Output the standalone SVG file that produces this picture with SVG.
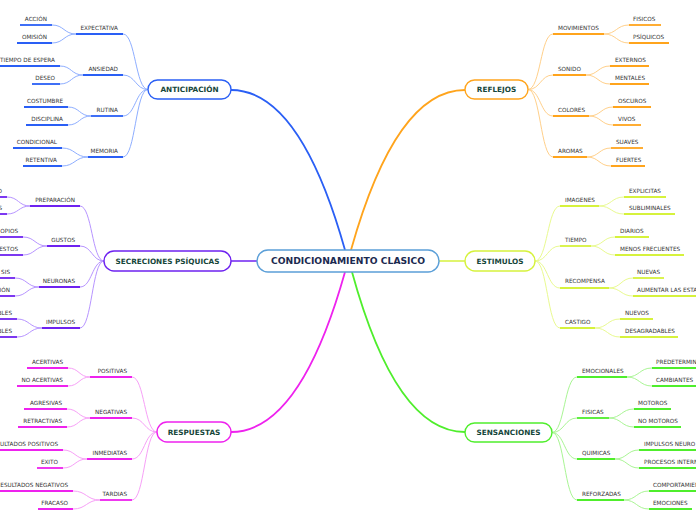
<svg xmlns="http://www.w3.org/2000/svg" width="696" height="520" viewBox="0 0 696 520">
<style>
.t{font-family:"DejaVu Sans",Verdana,sans-serif;font-size:5.7px;fill:#333}
.e{text-anchor:end}
.m{font-family:"DejaVu Sans",Verdana,sans-serif;font-weight:bold;font-size:7.3px;fill:#16463a;text-anchor:middle}
.c{font-family:"DejaVu Sans",Verdana,sans-serif;font-weight:bold;font-size:9.2px;fill:#1b2a50;text-anchor:middle}
.box{fill:#fff;stroke-width:1.4}
.u{stroke-width:1.8;fill:none;stroke-linecap:butt}
.k{fill:none;stroke-width:1}
.bl{stroke:#2a5ff5}.blk{stroke:#8eaeff}
.pu{stroke:#6e22f0}.puk{stroke:#b794ff}
.mg{stroke:#ee22ee}.mgk{stroke:#f7a0f7}
.or{stroke:#ffa41c}.ork{stroke:#ffd08a}
.li{stroke:#d6f23c}.lik{stroke:#e9fa90}
.gr{stroke:#4fee2c}.grk{stroke:#a9f594}
</style>
<g id="connectors">
<path class="k bl" style="stroke-width:1.8" d="M231,90 Q300,90 345,250"/>
<path class="k or" style="stroke-width:1.8" d="M465,90 Q396,90 351,250"/>
<path class="k mg" style="stroke-width:1.8" d="M231,432 Q300,432 345,272"/>
<path class="k gr" style="stroke-width:1.8" d="M465,432 Q396,432 352,272"/>
<path class="k pu" style="stroke-width:1.5" d="M231,261 H257"/>
<path class="k li" style="stroke-width:1.5" d="M439,261 H465"/>
<g class="k blk">
<path d="M148,89.5 C135.5,89.5 135.5,34 123,34"/>
<path d="M148,89.5 C135.5,89.5 135.5,75 123,75"/>
<path d="M148,89.5 C135.5,89.5 135.5,116 123,116"/>
<path d="M148,89.5 C135.5,89.5 135.5,157 123,157"/>
<path d="M76,34 C64,34 64,25 52,25"/><path d="M76,34 C64,34 64,43 52,43"/>
<path d="M83,75 C71.5,75 71.5,66 60,66"/><path d="M83,75 C71.5,75 71.5,84 60,84"/>
<path d="M91,116 C79.5,116 79.5,107 68,107"/><path d="M91,116 C79.5,116 79.5,125 68,125"/>
<path d="M88,157 C75,157 75,148 62,148"/><path d="M88,157 C75,157 75,166 62,166"/>
</g>
<g class="k puk">
<path d="M104,261 C92,261 92,206 80,206"/>
<path d="M104,261 C92,261 92,246 80,246"/>
<path d="M104,261 C92,261 92,287 80,287"/>
<path d="M104,261 C92,261 92,328 80,328"/>
<path d="M30,206 C18.5,206 18.5,197 7,197"/><path d="M30,206 C18.5,206 18.5,214 7,214"/>
<path d="M47,246 C35,246 35,237 23,237"/><path d="M47,246 C35,246 35,255 23,255"/>
<path d="M39,287 C27,287 27,278 15,278"/><path d="M39,287 C27,287 27,296 15,296"/>
<path d="M42,328 C29.5,328 29.5,319 17,319"/><path d="M42,328 C29.5,328 29.5,337 17,337"/>
</g>
<g class="k mgk">
<path d="M157,432 C144.5,432 144.5,377 132,377"/>
<path d="M157,432 C144.5,432 144.5,418 132,418"/>
<path d="M157,432 C144.5,432 144.5,459 132,459"/>
<path d="M157,432 C144.5,432 144.5,500 132,500"/>
<path d="M90,377 C79,377 79,368 68,368"/><path d="M90,377 C79,377 79,386 68,386"/>
<path d="M90,418 C78.5,418 78.5,409 67,409"/><path d="M90,418 C78.5,418 78.5,427 67,427"/>
<path d="M87,459 C75,459 75,450 63,450"/><path d="M87,459 C75,459 75,468 63,468"/>
<path d="M100,500 C86.5,500 86.5,491 73,491"/><path d="M100,500 C86.5,500 86.5,509 73,509"/>
</g>
<g class="k ork">
<path d="M528,89.5 C540.5,89.5 540.5,34 553,34"/>
<path d="M528,89.5 C540.5,89.5 540.5,75 553,75"/>
<path d="M528,89.5 C540.5,89.5 540.5,116 553,116"/>
<path d="M528,89.5 C540.5,89.5 540.5,157 553,157"/>
<path d="M604,34 C616.5,34 616.5,25 629,25"/><path d="M604,34 C616.5,34 616.5,43 629,43"/>
<path d="M586,75 C598,75 598,66 610,66"/><path d="M586,75 C598,75 598,84 610,84"/>
<path d="M589,116 C601,116 601,107 613,107"/><path d="M589,116 C601,116 601,125 613,125"/>
<path d="M587,157 C599,157 599,148 611,148"/><path d="M587,157 C599,157 599,166 611,166"/>
</g>
<g class="k lik">
<path d="M535,261 C547.5,261 547.5,206 560,206"/>
<path d="M535,261 C547.5,261 547.5,246 560,246"/>
<path d="M535,261 C547.5,261 547.5,288 560,288"/>
<path d="M535,261 C547.5,261 547.5,328 560,328"/>
<path d="M599,206 C611.5,206 611.5,197 624,197"/><path d="M599,206 C611.5,206 611.5,214 624,214"/>
<path d="M591,246 C603,246 603,237 615,237"/><path d="M591,246 C603,246 603,255 615,255"/>
<path d="M609,288 C621,288 621,278 633,278"/><path d="M609,288 C621,288 621,296 633,296"/>
<path d="M595,328 C607.5,328 607.5,319 620,319"/><path d="M595,328 C607.5,328 607.5,337 620,337"/>
</g>
<g class="k grk">
<path d="M552,432.5 C564.5,432.5 564.5,377 577,377"/>
<path d="M552,432.5 C564.5,432.5 564.5,418 577,418"/>
<path d="M552,432.5 C564.5,432.5 564.5,459 577,459"/>
<path d="M552,432.5 C564.5,432.5 564.5,500 577,500"/>
<path d="M627,377 C639.5,377 639.5,368 652,368"/><path d="M627,377 C639.5,377 639.5,386 652,386"/>
<path d="M609,418 C621.5,418 621.5,409 634,409"/><path d="M609,418 C621.5,418 621.5,427 634,427"/>
<path d="M615,459 C627,459 627,450 639,450"/><path d="M615,459 C627,459 627,468 639,468"/>
<path d="M624,500 C636.5,500 636.5,491 649,491"/><path d="M624,500 C636.5,500 636.5,509 649,509"/>
</g>
</g>

<g id="center">
<rect x="257" y="250" width="182" height="22" rx="11" fill="#fff" stroke="#5b9fd8" stroke-width="1.4"/>
<text class="c" x="348" y="264.3">CONDICIONAMIENTO CLASICO</text>
</g>

<g id="anticipacion">
<rect class="box bl" x="148" y="80" width="83" height="19" rx="9.5"/>
<text class="m" x="189.5" y="92.2">ANTICIPACIÓN</text>
</g>
<g id="expectativa"><path class="u bl" d="M76,34 H123"/><text class="t e" x="118" y="30">EXPECTATIVA</text></g>
<g id="ansiedad"><path class="u bl" d="M83,75 H123"/><text class="t e" x="118" y="71">ANSIEDAD</text></g>
<g id="rutina"><path class="u bl" d="M91,116 H123"/><text class="t e" x="118" y="112">RUTINA</text></g>
<g id="memoria"><path class="u bl" d="M88,157 H123"/><text class="t e" x="118" y="153">MEMORIA</text></g>
<g id="accion"><path class="u bl" d="M20,25 H52"/><text class="t e" x="47" y="21">ACCIÓN</text></g>
<g id="omision"><path class="u bl" d="M17,43 H52"/><text class="t e" x="47" y="39">OMISIÓN</text></g>
<g id="tiempo-espera"><path class="u bl" d="M0,66 H60"/><text class="t e" x="55" y="62">TIEMPO DE ESPERA</text></g>
<g id="deseo"><path class="u bl" d="M32,84 H60"/><text class="t e" x="55" y="80">DESEO</text></g>
<g id="costumbre"><path class="u bl" d="M24,107 H68"/><text class="t e" x="63" y="103">COSTUMBRE</text></g>
<g id="disciplina"><path class="u bl" d="M26,125 H68"/><text class="t e" x="63" y="121">DISCIPLINA</text></g>
<g id="condicional"><path class="u bl" d="M13,148 H62"/><text class="t e" x="57" y="144">CONDICIONAL</text></g>
<g id="retentiva"><path class="u bl" d="M23,166 H62"/><text class="t e" x="57" y="162">RETENTIVA</text></g>

<g id="secreciones">
<rect class="box pu" x="104" y="251" width="127" height="20" rx="10"/>
<text class="m" x="167.5" y="263.6">SECRECIONES PSÍQUICAS</text>
</g>
<g id="preparacion"><path class="u pu" d="M30,206 H80"/><text class="t e" x="75" y="202">PREPARACIÓN</text></g>
<g id="gustos"><path class="u pu" d="M47,246 H80"/><text class="t e" x="75" y="242">GUSTOS</text></g>
<g id="neuronas"><path class="u pu" d="M39,287 H80"/><text class="t e" x="75" y="283">NEURONAS</text></g>
<g id="impulsos"><path class="u pu" d="M42,328 H80"/><text class="t e" x="75" y="324">IMPULSOS</text></g>
<g id="prep-1"><path class="u pu" d="M0,197 H7"/><text class="t e" x="2" y="193">O</text></g>
<g id="prep-2"><path class="u pu" d="M0,214 H7"/><text class="t e" x="2" y="210">S</text></g>
<g id="gustos-1"><path class="u pu" d="M0,237 H23"/><text class="t e" x="18" y="233">OPIOS</text></g>
<g id="gustos-2"><path class="u pu" d="M0,255 H23"/><text class="t e" x="18" y="251">ESTOS</text></g>
<g id="neur-1"><path class="u pu" d="M0,278 H15"/><text class="t e" x="10" y="274">SIS</text></g>
<g id="neur-2"><path class="u pu" d="M0,296 H15"/><text class="t e" x="10" y="292">IÓN</text></g>
<g id="imp-1"><path class="u pu" d="M0,319 H17"/><text class="t e" x="12" y="315">BLES</text></g>
<g id="imp-2"><path class="u pu" d="M0,337 H17"/><text class="t e" x="12" y="333">BLES</text></g>

<g id="respuestas">
<rect class="box mg" x="157" y="422" width="74" height="20" rx="10"/>
<text class="m" x="194" y="434.6">RESPUESTAS</text>
</g>
<g id="positivas"><path class="u mg" d="M90,377 H132"/><text class="t e" x="127" y="373">POSITIVAS</text></g>
<g id="negativas"><path class="u mg" d="M90,418 H132"/><text class="t e" x="127" y="414">NEGATIVAS</text></g>
<g id="inmediatas"><path class="u mg" d="M87,459 H132"/><text class="t e" x="127" y="455">INMEDIATAS</text></g>
<g id="tardias"><path class="u mg" d="M100,500 H132"/><text class="t e" x="127" y="496">TARDIAS</text></g>
<g id="acertivas"><path class="u mg" d="M27,368 H68"/><text class="t e" x="63" y="364">ACERTIVAS</text></g>
<g id="no-acertivas"><path class="u mg" d="M17,386 H68"/><text class="t e" x="63" y="382">NO ACERTIVAS</text></g>
<g id="agresivas"><path class="u mg" d="M24,409 H67"/><text class="t e" x="62" y="405">AGRESIVAS</text></g>
<g id="retractivas"><path class="u mg" d="M18,427 H67"/><text class="t e" x="62" y="423">RETRACTIVAS</text></g>
<g id="res-positivos"><path class="u mg" d="M0,450 H63"/><text class="t e" x="58" y="446">ULTADOS POSITIVOS</text></g>
<g id="exito"><path class="u mg" d="M37,468 H63"/><text class="t e" x="58" y="464">EXITO</text></g>
<g id="res-negativos"><path class="u mg" d="M0,491 H73"/><text class="t e" x="68" y="487">ESULTADOS NEGATIVOS</text></g>
<g id="fracaso"><path class="u mg" d="M38,509 H73"/><text class="t e" x="68" y="505">FRACASO</text></g>

<g id="reflejos">
<rect class="box or" x="465" y="80" width="63" height="19" rx="9.5"/>
<text class="m" x="496.5" y="92.2">REFLEJOS</text>
</g>
<g id="movimientos"><path class="u or" d="M553,34 H604"/><text class="t" x="558" y="30">MOVIMIENTOS</text></g>
<g id="sonido"><path class="u or" d="M553,75 H586"/><text class="t" x="558" y="71">SONIDO</text></g>
<g id="colores"><path class="u or" d="M553,116 H589"/><text class="t" x="558" y="112">COLORES</text></g>
<g id="aromas"><path class="u or" d="M553,157 H587"/><text class="t" x="558" y="153">AROMAS</text></g>
<g id="fisicos"><path class="u or" d="M629,25 H661"/><text class="t" x="633" y="21">FISICOS</text></g>
<g id="psiquicos"><path class="u or" d="M629,43 H669"/><text class="t" x="633" y="39">PSÍQUICOS</text></g>
<g id="externos"><path class="u or" d="M610,66 H649"/><text class="t" x="615" y="62">EXTERNOS</text></g>
<g id="mentales"><path class="u or" d="M610,84 H649"/><text class="t" x="615" y="80">MENTALES</text></g>
<g id="oscuros"><path class="u or" d="M613,107 H651"/><text class="t" x="618" y="103">OSCUROS</text></g>
<g id="vivos"><path class="u or" d="M613,125 H641"/><text class="t" x="618" y="121">VIVOS</text></g>
<g id="suaves"><path class="u or" d="M611,148 H643"/><text class="t" x="616" y="144">SUAVES</text></g>
<g id="fuertes"><path class="u or" d="M611,166 H645"/><text class="t" x="616" y="162">FUERTES</text></g>

<g id="estimulos">
<rect class="box li" x="465" y="251" width="70" height="20" rx="10"/>
<text class="m" x="500" y="263.6">ESTIMULOS</text>
</g>
<g id="imagenes"><path class="u li" d="M560,206 H599"/><text class="t" x="565" y="202">IMAGENES</text></g>
<g id="tiempo"><path class="u li" d="M560,246 H591"/><text class="t" x="565" y="242">TIEMPO</text></g>
<g id="recompensa"><path class="u li" d="M560,288 H609"/><text class="t" x="565" y="283">RECOMPENSA</text></g>
<g id="castigo"><path class="u li" d="M560,328 H595"/><text class="t" x="565" y="324">CASTIGO</text></g>
<g id="explicitas"><path class="u li" d="M624,197 H666"/><text class="t" x="629" y="193">EXPLICITAS</text></g>
<g id="subliminales"><path class="u li" d="M624,214 H675"/><text class="t" x="629" y="210">SUBLIMINALES</text></g>
<g id="diarios"><path class="u li" d="M615,237 H649"/><text class="t" x="620" y="233">DIARIOS</text></g>
<g id="menos-frecuentes"><path class="u li" d="M615,255 H684"/><text class="t" x="620" y="251">MENOS FRECUENTES</text></g>
<g id="nuevas"><path class="u li" d="M633,278 H664"/><text class="t" x="637" y="274">NUEVAS</text></g>
<g id="aumentar"><path class="u li" d="M633,296 H696"/><text class="t" x="637" y="292">AUMENTAR LAS ESTA</text></g>
<g id="nuevos"><path class="u li" d="M620,319 H653"/><text class="t" x="625" y="315">NUEVOS</text></g>
<g id="desagradables"><path class="u li" d="M620,337 H678"/><text class="t" x="625" y="333">DESAGRADABLES</text></g>

<g id="sensanciones">
<rect class="box gr" x="465" y="423" width="87" height="19" rx="9.5"/>
<text class="m" x="508.5" y="435.2">SENSANCIONES</text>
</g>
<g id="emocionales"><path class="u gr" d="M577,377 H627"/><text class="t" x="582" y="373">EMOCIONALES</text></g>
<g id="fisicas"><path class="u gr" d="M577,418 H609"/><text class="t" x="582" y="414">FISICAS</text></g>
<g id="quimicas"><path class="u gr" d="M577,459 H615"/><text class="t" x="582" y="455">QUIMICAS</text></g>
<g id="reforzadas"><path class="u gr" d="M577,500 H624"/><text class="t" x="582" y="496">REFORZADAS</text></g>
<g id="predetermin"><path class="u gr" d="M652,368 H696"/><text class="t" x="656" y="364">PREDETERMIN</text></g>
<g id="cambiantes"><path class="u gr" d="M652,386 H696"/><text class="t" x="656" y="382">CAMBIANTES</text></g>
<g id="motoros"><path class="u gr" d="M634,409 H671"/><text class="t" x="638" y="405">MOTOROS</text></g>
<g id="no-motoros"><path class="u gr" d="M634,427 H681"/><text class="t" x="638" y="423">NO MOTOROS</text></g>
<g id="impulsos-neuro"><path class="u gr" d="M639,450 H696"/><text class="t" x="644" y="446">IMPULSOS NEURO</text></g>
<g id="procesos-intern"><path class="u gr" d="M639,468 H696"/><text class="t" x="644" y="464">PROCESOS INTERN</text></g>
<g id="comportamien"><path class="u gr" d="M649,491 H696"/><text class="t" x="653" y="487">COMPORTAMIEN</text></g>
<g id="emociones"><path class="u gr" d="M649,509 H692"/><text class="t" x="653" y="505">EMOCIONES</text></g>
</svg>
